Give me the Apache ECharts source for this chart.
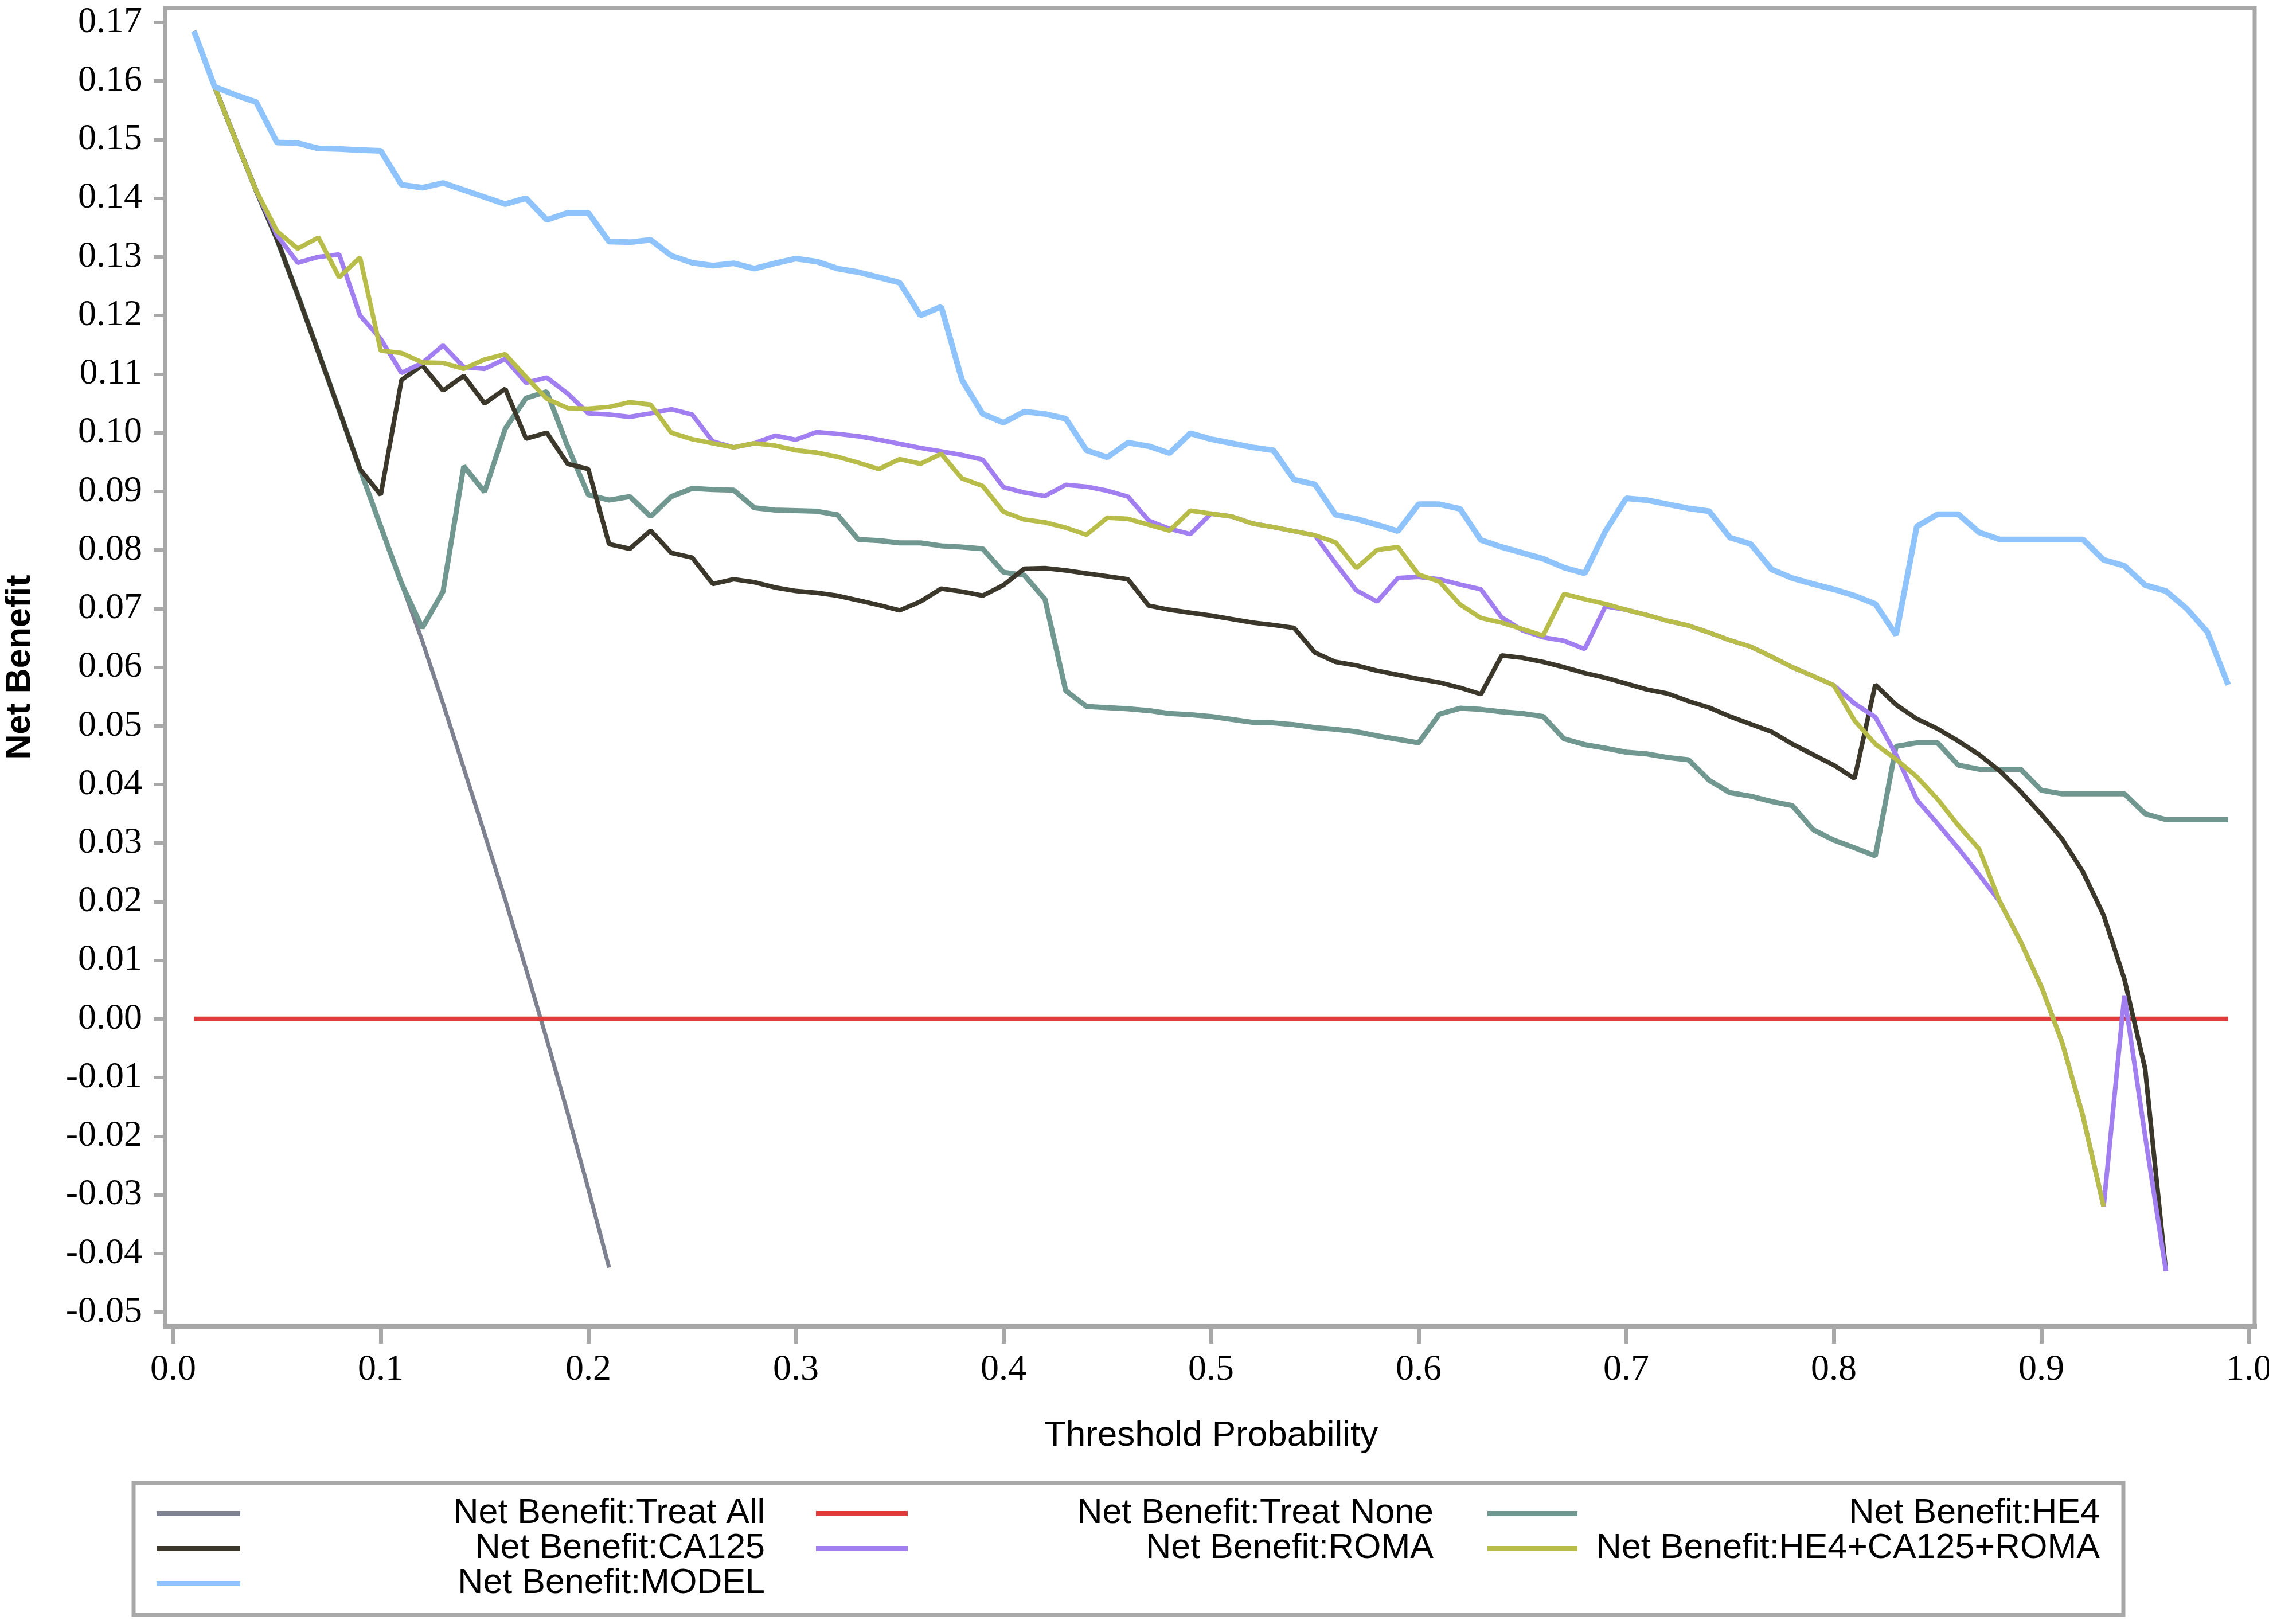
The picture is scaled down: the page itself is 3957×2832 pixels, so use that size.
<!DOCTYPE html>
<html lang="en">
<head>
    <meta charset="utf-8">
    <title>Net Benefit</title>
    <style>
        html, body { margin: 0; padding: 0; background: #fff; }
        #chart { width: 3957px; height: 2832px; }
    </style>
</head>
<body>
    <div id="chart"></div>
    <script src="https://cdn.jsdelivr.net/npm/echarts@6.0.0/dist/echarts.min.js"></script>
    <script type="text/javascript">
        // threshold probabilities (x)
        var threshold = [
            0.01, 0.02, 0.03, 0.04, 0.05, 0.06, 0.07, 0.08, 0.09, 0.10,
            0.11, 0.12, 0.13, 0.14, 0.15, 0.16, 0.17, 0.18, 0.19, 0.20,
            0.21, 0.22, 0.23, 0.24, 0.25, 0.26, 0.27, 0.28, 0.29, 0.30,
            0.31, 0.32, 0.33, 0.34, 0.35, 0.36, 0.37, 0.38, 0.39, 0.40,
            0.41, 0.42, 0.43, 0.44, 0.45, 0.46, 0.47, 0.48, 0.49, 0.50,
            0.51, 0.52, 0.53, 0.54, 0.55, 0.56, 0.57, 0.58, 0.59, 0.60,
            0.61, 0.62, 0.63, 0.64, 0.65, 0.66, 0.67, 0.68, 0.69, 0.70,
            0.71, 0.72, 0.73, 0.74, 0.75, 0.76, 0.77, 0.78, 0.79, 0.80,
            0.81, 0.82, 0.83, 0.84, 0.85, 0.86, 0.87, 0.88, 0.89, 0.90,
            0.91, 0.92, 0.93, 0.94, 0.95, 0.96, 0.97, 0.98, 0.99
        ];

        var treatAll = [
            0.1685, 0.1590, 0.1500, 0.1413, 0.1330, 0.1235, 0.1137, 0.1038, 0.0938, 0.0840,
            0.0743, 0.0645, 0.0538, 0.0428, 0.0316, 0.0203, 0.0085, -0.0035, -0.0160, -0.0290,
            -0.0424
        ];

        var treatNoneX = [0.01, 0.99];
        var treatNone = [0, 0];

        var he4 = [
            0.1685, 0.1590, 0.1500, 0.1413, 0.1330, 0.1235, 0.1137, 0.1038, 0.0938, 0.0840,
            0.0743, 0.0667, 0.0729, 0.0943, 0.0899, 0.1007, 0.1059, 0.1070, 0.0977, 0.0894,
            0.0885, 0.0891, 0.0857, 0.0891, 0.0905, 0.0903, 0.0902, 0.0872, 0.0868, 0.0867,
            0.0866, 0.0860, 0.0818, 0.0816, 0.0812, 0.0812, 0.0807, 0.0805, 0.0802, 0.0762,
            0.0757, 0.0716, 0.0560, 0.0533, 0.0531, 0.0529, 0.0526, 0.0521, 0.0519, 0.0516,
            0.0511, 0.0506, 0.0505, 0.0502, 0.0497, 0.0494, 0.0490, 0.0483, 0.0477, 0.0471,
            0.0520, 0.0530, 0.0528, 0.0524, 0.0521, 0.0516, 0.0478, 0.0468, 0.0462, 0.0455,
            0.0452, 0.0446, 0.0442, 0.0407, 0.0386, 0.0380, 0.0371, 0.0364, 0.0323, 0.0305,
            0.0292, 0.0278, 0.0465, 0.0471, 0.0471, 0.0433, 0.0426, 0.0426, 0.0426, 0.0390,
            0.0384, 0.0384, 0.0384, 0.0384, 0.0350, 0.0340, 0.0340, 0.0340, 0.0340
        ];

        var ca125 = [
            0.1685, 0.1590, 0.1500, 0.1413, 0.1330, 0.1235, 0.1137, 0.1038, 0.0938, 0.0894,
            0.1090, 0.1115, 0.1072, 0.1097, 0.1050, 0.1075, 0.0990, 0.1000, 0.0947, 0.0938,
            0.0810, 0.0802, 0.0833, 0.0795, 0.0787, 0.0742, 0.0750, 0.0745, 0.0736, 0.0730,
            0.0727, 0.0722, 0.0714, 0.0706, 0.0697, 0.0712, 0.0734, 0.0729, 0.0722, 0.0740,
            0.0768, 0.0769, 0.0765, 0.0760, 0.0755, 0.0750, 0.0705, 0.0698, 0.0693, 0.0688,
            0.0682, 0.0676, 0.0672, 0.0667, 0.0625, 0.0609, 0.0603, 0.0594, 0.0587, 0.0580,
            0.0574, 0.0565, 0.0554, 0.0620, 0.0616, 0.0609, 0.0600, 0.0590, 0.0582, 0.0572,
            0.0562, 0.0555, 0.0542, 0.0531, 0.0516, 0.0503, 0.0490, 0.0469, 0.0451, 0.0433,
            0.0410, 0.0570, 0.0536, 0.0512, 0.0495, 0.0474, 0.0451, 0.0423, 0.0388, 0.0349,
            0.0307, 0.0251, 0.0177, 0.0068, -0.0085, -0.0430
        ];

        var roma = [
            0.1685, 0.1590, 0.1500, 0.1413, 0.1337, 0.1290, 0.1300, 0.1304, 0.1200, 0.1160,
            0.1102, 0.1119, 0.1149, 0.1112, 0.1109, 0.1126, 0.1085, 0.1094, 0.1067, 0.1033,
            0.1031, 0.1027, 0.1033, 0.1040, 0.1031, 0.0985, 0.0975, 0.0982, 0.0995, 0.0988,
            0.1001, 0.0998, 0.0994, 0.0988, 0.0981, 0.0974, 0.0968, 0.0962, 0.0954, 0.0907,
            0.0898, 0.0892, 0.0911, 0.0908, 0.0901, 0.0891, 0.0850, 0.0836, 0.0827, 0.0862,
            0.0857, 0.0845, 0.0839, 0.0832, 0.0825, 0.0777, 0.0731, 0.0712, 0.0752, 0.0754,
            0.0750, 0.0741, 0.0733, 0.0685, 0.0663, 0.0651, 0.0645, 0.0631, 0.0704, 0.0698,
            0.0689, 0.0679, 0.0671, 0.0659, 0.0646, 0.0635, 0.0618, 0.0600, 0.0585, 0.0569,
            0.0538, 0.0515, 0.0451, 0.0374, 0.0333, 0.0291, 0.0246, 0.0200, 0.0132, 0.0055,
            -0.0040, -0.0165, -0.0320, 0.0040, -0.0200, -0.0430
        ];

        var combo = [
            0.1685, 0.1590, 0.1500, 0.1413, 0.1344, 0.1314, 0.1333, 0.1265, 0.1299, 0.1140,
            0.1136, 0.1120, 0.1119, 0.1109, 0.1125, 0.1134, 0.1095, 0.1058, 0.1042, 0.1041,
            0.1044, 0.1052, 0.1048, 0.1000, 0.0989, 0.0982, 0.0975, 0.0982, 0.0978, 0.0970,
            0.0966, 0.0959, 0.0949, 0.0938, 0.0955, 0.0947, 0.0964, 0.0922, 0.0909, 0.0865,
            0.0852, 0.0847, 0.0838, 0.0826, 0.0855, 0.0853, 0.0843, 0.0833, 0.0867, 0.0862,
            0.0857, 0.0845, 0.0839, 0.0832, 0.0825, 0.0813, 0.0769, 0.0800, 0.0805, 0.0758,
            0.0746, 0.0707, 0.0684, 0.0676, 0.0665, 0.0654, 0.0725, 0.0716, 0.0708, 0.0698,
            0.0689, 0.0679, 0.0671, 0.0659, 0.0646, 0.0635, 0.0618, 0.0600, 0.0585, 0.0569,
            0.0509, 0.0469, 0.0443, 0.0413, 0.0375, 0.0330, 0.0290, 0.0200, 0.0132, 0.0055,
            -0.0040, -0.0165, -0.0320
        ];

        var model = [
            0.1685, 0.1590, 0.1576, 0.1564, 0.1495, 0.1494, 0.1485, 0.1484, 0.1482, 0.1481,
            0.1423, 0.1418, 0.1426, 0.1414, 0.1402, 0.1390, 0.1400, 0.1363, 0.1375, 0.1375,
            0.1326, 0.1325, 0.1329, 0.1302, 0.1290, 0.1285, 0.1289, 0.1280, 0.1289, 0.1297,
            0.1292, 0.1280, 0.1274, 0.1265, 0.1256, 0.1200, 0.1215, 0.1090, 0.1032, 0.1017,
            0.1036, 0.1032, 0.1024, 0.0970, 0.0958, 0.0983, 0.0977, 0.0965, 0.0999, 0.0989,
            0.0982, 0.0975, 0.0970, 0.0920, 0.0912, 0.0860, 0.0853, 0.0843, 0.0832, 0.0878,
            0.0878, 0.0870, 0.0817, 0.0805, 0.0795, 0.0785, 0.0770, 0.0760, 0.0832, 0.0888,
            0.0885, 0.0878, 0.0871, 0.0866, 0.0821, 0.0810, 0.0767, 0.0752, 0.0742, 0.0733,
            0.0722, 0.0708, 0.0655, 0.0840, 0.0861, 0.0861, 0.0830, 0.0818, 0.0818, 0.0818,
            0.0818, 0.0818, 0.0783, 0.0773, 0.0740, 0.0730, 0.0700, 0.0660, 0.0570
        ];

        var names = {
            all: 'Net Benefit:Treat All',
            none: 'Net Benefit:Treat None',
            he4: 'Net Benefit:HE4',
            ca125: 'Net Benefit:CA125',
            roma: 'Net Benefit:ROMA',
            combo: 'Net Benefit:HE4+CA125+ROMA',
            model: 'Net Benefit:MODEL'
        };

        var frameColor = '#a8a8a8';

        function pairs(xs, ys) {
            var out = [];
            for (var i = 0; i < ys.length; i++) {
                out.push([xs[i], ys[i]]);
            }
            return out;
        }

        function line(name, xs, ys, color, width) {
            return {
                name: name,
                type: 'line',
                data: pairs(xs, ys),
                symbol: 'none',
                lineStyle: { color: color, width: width },
                itemStyle: { color: color },
                emphasis: { disabled: true },
                animation: false
            };
        }

        function legendCol(data, left, iconW, textW) {
            return {
                data: data,
                orient: 'vertical',
                left: left,
                top: 2609,
                padding: 0,
                itemGap: 0,
                itemWidth: iconW,
                itemHeight: 9,
                icon: 'rect',
                selectedMode: false,
                formatter: '{t|{name}}',
                textStyle: {
                    fontSize: 61,
                    fontFamily: 'Liberation Sans',
                    color: '#000',
                    rich: {
                        t: {
                            width: textW,
                            align: 'right',
                            fontSize: 61,
                            lineHeight: 59,
                            fontFamily: 'Liberation Sans',
                            color: '#000'
                        }
                    }
                }
            };
        }

        var myChart = echarts.init(document.getElementById('chart'));
        var option = {
            backgroundColor: '#fff',
            animation: false,
            grid: {
                left: 302,
                right: 35,
                top: 39,
                bottom: 544,
                outerBoundsMode: 'none'
            },
            xAxis: {
                type: 'value',
                min: 0,
                max: 1,
                interval: 0.1,
                offset: 25,
                axisLine: { show: false, onZero: false },
                axisTick: { show: true, length: 30, lineStyle: { color: frameColor, width: 7 } },
                axisLabel: {
                    margin: 44,
                    fontSize: 64,
                    fontFamily: 'Liberation Serif',
                    color: '#000',
                    formatter: function (v) { return v.toFixed(1); }
                },
                splitLine: { show: false },
                name: 'Threshold Probability',
                nameLocation: 'middle',
                nameGap: 160,
                nameTextStyle: { fontSize: 62, fontFamily: 'Liberation Sans', color: '#000' }
            },
            yAxis: {
                type: 'value',
                min: -0.05,
                max: 0.17,
                interval: 0.01,
                offset: 14,
                axisLine: { show: false, onZero: false },
                axisTick: { show: true, length: 20, lineStyle: { color: frameColor, width: 6 } },
                axisLabel: {
                    margin: 40,
                    fontSize: 64,
                    fontFamily: 'Liberation Serif',
                    color: '#000',
                    formatter: function (v) { return (Math.round(v * 100) / 100).toFixed(2); }
                },
                splitLine: { show: false },
                name: 'Net Benefit',
                nameLocation: 'middle',
                nameRotate: 90,
                nameGap: 222,
                nameTextStyle: { fontSize: 61, fontWeight: 'bold', fontFamily: 'Liberation Sans', color: '#000' }
            },
            legend: [
                legendCol([names.all, names.ca125, names.model], 273, 146, 910),
                legendCol([names.none, names.roma], 1423, 160, 912),
                legendCol([names.he4, names.combo], 2594, 157, 906)
            ],
            graphic: [
                {
                    type: 'rect',
                    silent: true,
                    z: 10,
                    shape: { x: 288, y: 14, width: 3644, height: 2299 },
                    style: { fill: null, stroke: frameColor, lineWidth: 7 }
                },
                {
                    type: 'line',
                    silent: true,
                    z: 10,
                    shape: { x1: 284, y1: 2313, x2: 3936, y2: 2313 },
                    style: { stroke: frameColor, lineWidth: 10 }
                },
                {
                    type: 'rect',
                    silent: true,
                    shape: { x: 233, y: 2586, width: 3470, height: 230 },
                    style: { fill: null, stroke: frameColor, lineWidth: 7 }
                }
            ],
            series: [
                line(names.all, threshold, treatAll, '#7d8190', 7),
                line(names.none, treatNoneX, treatNone, '#e03c3e', 8),
                line(names.he4, threshold, he4, '#719890', 9),
                line(names.ca125, threshold, ca125, '#3b382b', 8),
                line(names.roma, threshold, roma, '#a27ff0', 8),
                line(names.combo, threshold, combo, '#b8bc48', 8),
                line(names.model, threshold, model, '#8fc3fc', 10)
            ]
        };
        myChart.setOption(option);
    </script>
</body>
</html>
